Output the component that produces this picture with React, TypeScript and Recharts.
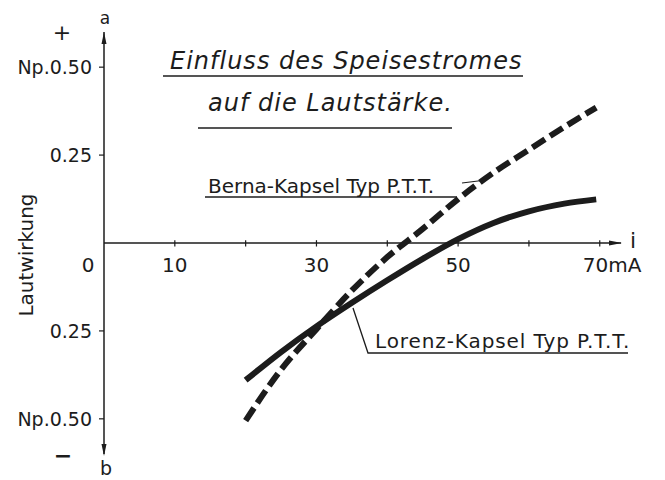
import React from 'react';
import { LineChart, Line, XAxis, YAxis, ReferenceLine, ReferenceDot } from 'recharts';

// Speisestrom in mA
const current = [20, 25, 30, 35, 40, 45, 50, 55, 60, 65, 69.5];
// Lautwirkung in Np
const berna = [-0.505, -0.36, -0.245, -0.135, -0.04, 0.04, 0.125, 0.2, 0.265, 0.33, 0.385];
const lorenz = [-0.39, -0.31, -0.237, -0.17, -0.106, -0.045, 0.011, 0.057, 0.09, 0.112, 0.124];

const xTicks = [10, 20, 30, 40, 50, 60, 70];
const xTickLabels = ['10', '', '30', '', '50', '', '70mA'];
const yTicks = [0.5, 0.25, -0.25, -0.5];
const yTickLabels = ['Np.0.50', '0.25', '0.25', 'Np.0.50'];

const INK = '#1c1c1c';
const FONT = "'DejaVu Sans', sans-serif";

const data = current.map((x, i) => ({ x, berna: berna[i], lorenz: lorenz[i] }));

export default function App() {
  return (
    <div style={{ position: 'absolute', left: 0, top: 0, width: 665, height: 480, background: '#fff' }}>
      <LineChart width={665} height={480} data={data} margin={{ top: 32, right: 44, bottom: 26, left: 0 }}>
        <XAxis type="number" dataKey="x" domain={[0, 73]} hide allowDataOverflow />
        <YAxis
          type="number"
          domain={[-0.6, 0.6]}
          ticks={yTicks}
          width={104}
          tickFormatter={(v: number) => yTickLabels[yTicks.indexOf(v)]}
          tick={{ fontSize: 19, fill: INK, fontFamily: FONT }}
          tickSize={5}
          tickMargin={7}
          axisLine={{ stroke: INK, strokeWidth: 1.5 }}
          tickLine={{ stroke: INK, strokeWidth: 1.2 }}
        />
        {/* Abszisse bei 0 */}
        <ReferenceLine y={0} stroke={INK} strokeWidth={1.5} />
        {xTicks.map((t, i) => (
          <ReferenceLine
            key={t}
            segment={[{ x: t, y: 0.008 }, { x: t, y: -0.01 }]}
            stroke={INK}
            strokeWidth={1.2}
            label={{
              content: (p: any) =>
                xTickLabels[i] ? (
                  <text
                    x={p.viewBox.x + (t === 70 ? -17 : 0)}
                    y={265}
                    dy="0.36em"
                    textAnchor={t === 70 ? 'start' : 'middle'}
                    fontSize={20}
                    fontFamily={FONT}
                    fill={INK}
                  >
                    {xTickLabels[i]}
                  </text>
                ) : null,
            }}
          />
        ))}
        <ReferenceDot
          x={0}
          y={0}
          r={0}
          ifOverflow="visible"
          shape={(p: any) => (
            <text x={p.cx - 16} y={p.cy + 22} dy="0.36em" textAnchor="middle" fontSize={20} fontFamily={FONT} fill={INK}>
              0
            </text>
          )}
        />
        {/* Pfeile */}
        <ReferenceDot
          x={0}
          y={0.6}
          r={0}
          ifOverflow="visible"
          shape={(p: any) => (
            <g>
              <path d={`M${p.cx},${p.cy} l-2.5,12 l5,0 z`} fill={INK} />
              <text x={p.cx + 1} y={p.cy - 14} dy="0.36em" textAnchor="middle" fontSize={17} fontFamily={FONT} fill={INK}>
                a
              </text>
            </g>
          )}
        />
        <ReferenceDot
          x={0}
          y={-0.6}
          r={0}
          ifOverflow="visible"
          shape={(p: any) => (
            <g>
              <path d={`M${p.cx},${p.cy + 2} l-2.5,-12 l5,0 z`} fill={INK} />
              <text x={p.cx + 2} y={p.cy + 14} dy="0.36em" textAnchor="middle" fontSize={19} fontFamily={FONT} fill={INK}>
                b
              </text>
            </g>
          )}
        />
        <ReferenceDot
          x={73}
          y={0}
          r={0}
          ifOverflow="visible"
          shape={(p: any) => (
            <g>
              <path d={`M${p.cx + 1},${p.cy} l-13,-2.5 l0,5 z`} fill={INK} />
              <text x={p.cx + 12} y={p.cy - 3} dy="0.36em" textAnchor="middle" fontSize={22} fontFamily={FONT} fill={INK}>
                i
              </text>
            </g>
          )}
        />
        <Line
          type="monotone"
          dataKey="berna"
          stroke={INK}
          strokeWidth={6}
          strokeDasharray="15 6"
          dot={false}
          isAnimationActive={false}
        />
        <Line
          type="monotone"
          dataKey="lorenz"
          stroke={INK}
          strokeWidth={6}
          dot={false}
          isAnimationActive={false}
        />
      </LineChart>

      <svg
        width={665}
        height={480}
        style={{ position: 'absolute', left: 0, top: 0, pointerEvents: 'none' }}
        fontFamily={FONT}
        fill={INK}
      >
        <text x={170} y={69} fontSize={24} fontStyle="italic" letterSpacing={1}>
          Einfluss des Speisestromes
        </text>
        <line x1={163} y1={76} x2={523} y2={76} stroke={INK} strokeWidth={1.5} />
        <text x={208} y={111} fontSize={24} fontStyle="italic" letterSpacing={1}>
          auf die Lautstärke.
        </text>
        <line x1={198} y1={128} x2={452} y2={128} stroke={INK} strokeWidth={1.5} />

        <text x={208} y={193} fontSize={20}>
          Berna-Kapsel Typ P.T.T.
        </text>
        <line x1={205} y1={197} x2={457} y2={197} stroke={INK} strokeWidth={1.5} />
        <line x1={462} y1={183} x2={486} y2={180} stroke={INK} strokeWidth={1.2} />

        <text x={375} y={348} fontSize={20} letterSpacing={0.9}>
          Lorenz-Kapsel Typ P.T.T.
        </text>
        <polyline points="353,308 368,353 628,353" fill="none" stroke={INK} strokeWidth={1.3} />

        <text transform="translate(33,255) rotate(-90)" textAnchor="middle" fontSize={20}>
          Lautwirkung
        </text>
        <text x={62} y={32} dy="0.36em" textAnchor="middle" fontSize={22}>
          +
        </text>
        <text x={63} y={455} dy="0.36em" textAnchor="middle" fontSize={22} fontWeight="bold">
          −
        </text>
      </svg>
    </div>
  );
}
